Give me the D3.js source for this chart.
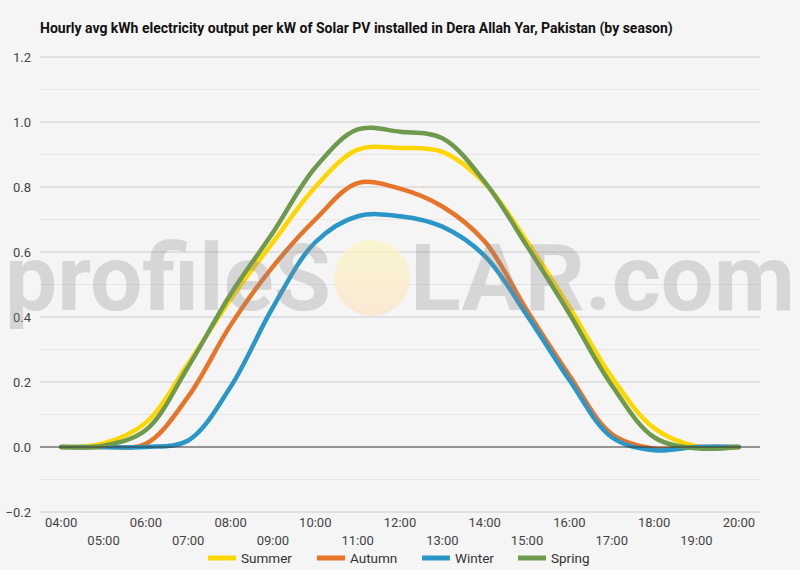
<!DOCTYPE html>
<html>
<head>
<meta charset="utf-8">
<script src="https://cdn.jsdelivr.net/npm/d3@7"></script>
<style>
  body { margin: 0; background: #f5f5f5; }
  svg { display: block; font-family: Roboto, sans-serif; }
  .title { font-size: 14px; font-weight: bold; fill: #111; }
  .tick-label { font-size: 13px; fill: #444; }
  .legend-label { font-size: 13.5px; fill: #333; }
  .series { fill: none; stroke-width: 4.5; stroke-linejoin: round; stroke-linecap: round; }
</style>
</head>
<body>
<div id="chart"></div>
<script>
// hours on the x axis
const hours = ['04:00', '05:00', '06:00', '07:00', '08:00', '09:00', '10:00', '11:00',
  '12:00', '13:00', '14:00', '15:00', '16:00', '17:00', '18:00', '19:00', '20:00'];

// kWh per kW
const summer = [0, 0.011, 0.075, 0.257, 0.455, 0.63, 0.80, 0.915, 0.92, 0.908, 0.812, 0.632, 0.43, 0.215, 0.058, 0.002, 0];
const autumn = [0, 0, 0.01, 0.155, 0.375, 0.555, 0.70, 0.812, 0.795, 0.74, 0.632, 0.42, 0.22, 0.04, -0.005, 0, 0];
const winter = [0, 0, 0, 0.02, 0.185, 0.43, 0.63, 0.71, 0.71, 0.678, 0.588, 0.405, 0.206, 0.03, -0.01, 0, 0];
const spring = [0, 0.004, 0.052, 0.247, 0.47, 0.66, 0.86, 0.977, 0.97, 0.95, 0.816, 0.618, 0.41, 0.19, 0.03, -0.004, 0];

const seriesNames = ['Summer', 'Autumn', 'Winter', 'Spring'];
const seriesColors = ['#ffd600', '#e8742a', '#2a97c8', '#6e9a4e'];
const seriesData = [summer, autumn, winter, spring];

const yTicks = [-0.2, 0, 0.2, 0.4, 0.6, 0.8, 1.0, 1.2];
const yMinor = [-0.1, 0.1, 0.3, 0.5, 0.7, 0.9, 1.1];

const W = 800, H = 570;
const margin = { top: 57, right: 40, bottom: 58, left: 40 };

const svg = d3.select('#chart')
  .append('svg')
  .attr('width', W)
  .attr('height', H);

svg.append('rect')
  .attr('width', W)
  .attr('height', H)
  .attr('fill', '#f5f5f5');

const x = d3.scalePoint()
  .domain(hours)
  .range([margin.left, W - margin.right])
  .padding(0.5);

const y = d3.scaleLinear()
  .domain([-0.2, 1.2])
  .range([H - margin.bottom, margin.top]);

// title
svg.append('text')
  .attr('class', 'title')
  .attr('x', 40)
  .attr('y', 33)
  .text('Hourly avg kWh electricity output per kW of Solar PV installed in Dera Allah Yar, Pakistan (by season)');

// gridlines
svg.append('g')
  .selectAll('line')
  .data(yMinor)
  .join('line')
  .attr('x1', margin.left)
  .attr('x2', W - margin.right)
  .attr('y1', d => y(d))
  .attr('y2', d => y(d))
  .attr('stroke', '#e6e6e6')
  .attr('stroke-width', 1);

svg.append('g')
  .selectAll('line')
  .data(yTicks.filter(d => d !== 0))
  .join('line')
  .attr('x1', margin.left)
  .attr('x2', W - margin.right)
  .attr('y1', d => y(d))
  .attr('y2', d => y(d))
  .attr('stroke', '#cccccc')
  .attr('stroke-width', 1);

// y labels
svg.append('g')
  .selectAll('text')
  .data(yTicks)
  .join('text')
  .attr('class', 'tick-label')
  .attr('x', 31)
  .attr('y', d => y(d) + 4.5)
  .attr('text-anchor', 'end')
  .text(d => d3.format('.1f')(d));

// x labels in two staggered rows
svg.append('g')
  .selectAll('text')
  .data(hours)
  .join('text')
  .attr('class', 'tick-label')
  .attr('x', d => x(d))
  .attr('y', (d, i) => i % 2 === 0 ? 527 : 545)
  .attr('text-anchor', 'middle')
  .text(d => d);

// series
const line = d3.line()
  .x((d, i) => x(hours[i]))
  .y(d => y(d))
  .curve(d3.curveCatmullRom.alpha(0.5));

svg.append('g')
  .selectAll('path')
  .data(seriesData)
  .join('path')
  .attr('class', 'series')
  .attr('stroke', (d, i) => seriesColors[i])
  .attr('d', line);

// zero line
svg.append('line')
  .attr('x1', margin.left)
  .attr('x2', W - margin.right)
  .attr('y1', y(0))
  .attr('y2', y(0))
  .attr('stroke', '#333')
  .attr('stroke-width', 1);

// watermark
const defs = svg.append('defs');
const grad = defs.append('linearGradient')
  .attr('id', 'sun')
  .attr('x1', 0).attr('y1', 0).attr('x2', 0).attr('y2', 1);
grad.append('stop').attr('offset', '0%').attr('stop-color', '#fbf6c4');
grad.append('stop').attr('offset', '100%').attr('stop-color', '#fbe4c8');

const wm = svg.append('g').attr('pointer-events', 'none');
wm.append('circle')
  .attr('cx', 372)
  .attr('cy', 278)
  .attr('r', 38)
  .attr('fill', 'url(#sun)')
  .attr('opacity', 0.75);
wm.append('text')
  .attr('x', 5)
  .attr('y', 310)
  .attr('font-size', 92)
  .attr('font-weight', 'bold')
  .attr('textLength', 326)
  .attr('lengthAdjust', 'spacingAndGlyphs')
  .attr('fill', '#8a8a8a')
  .attr('opacity', 0.28)
  .text('profileS');
wm.append('text')
  .attr('x', 410)
  .attr('y', 310)
  .attr('font-size', 92)
  .attr('font-weight', 'bold')
  .attr('textLength', 385)
  .attr('lengthAdjust', 'spacingAndGlyphs')
  .attr('fill', '#8a8a8a')
  .attr('opacity', 0.28)
  .text('LAR.com');

// legend
const legendX = [208, 317, 422, 518];
const legend = svg.append('g')
  .selectAll('g')
  .data(seriesNames)
  .join('g')
  .attr('transform', (d, i) => `translate(${legendX[i]}, 558)`);

legend.append('line')
  .attr('x1', 0)
  .attr('x2', 28)
  .attr('stroke', (d, i) => seriesColors[i])
  .attr('stroke-width', 5);

legend.append('text')
  .attr('class', 'legend-label')
  .attr('x', 33)
  .attr('y', 5)
  .text(d => d);
</script>
</body>
</html>
